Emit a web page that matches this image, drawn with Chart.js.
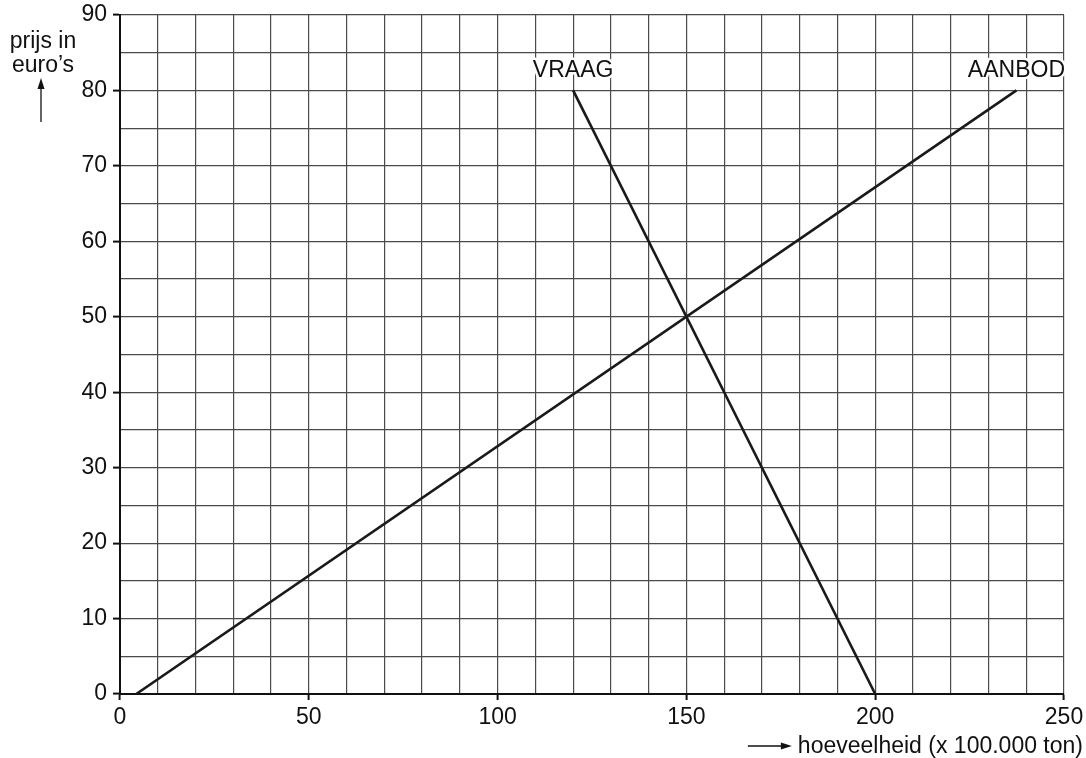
<!DOCTYPE html>
<html>
<head>
<meta charset="utf-8">
<script src="https://cdn.jsdelivr.net/npm/chart.js@4"></script>
<style>
html,body{margin:0;padding:0;background:#fff;}
#wrap{width:1086px;height:758px;position:relative;}
</style>
</head>
<body>
<div id="wrap"><canvas id="c" width="1086" height="758"></canvas></div>
<script>
// Data
const vraagQ = [120, 200];
const vraagP = [80, 0];
const aanbodQ = [4.3, 237.4];
const aanbodP = [0, 80];
const xTickLabels = [0, 50, 100, 150, 200, 250];
const yTickLabels = [0, 10, 20, 30, 40, 50, 60, 70, 80, 90];
const seriesNames = ['VRAAG', 'AANBOD'];
const yTitle = ['prijs in', 'euro\u2019s'];
const xTitle = 'hoeveelheid (x 100.000 ton)';

const FONT = '"Liberation Sans", Arial, sans-serif';

function pts(xs, ys){ return xs.map((x,i)=>({x:x, y:ys[i]})); }

const labelPlugin = {
  id: 'labels',
  afterDraw(chart){
    const ctx = chart.ctx;
    const xs = chart.scales.x, ys = chart.scales.y;
    ctx.save();
    ctx.font = '23px ' + FONT;
    ctx.textAlign = 'center';
    ctx.textBaseline = 'alphabetic';
    ctx.lineJoin = 'round';
    const ends = [
      [vraagQ[0], vraagP[0]],
      [aanbodQ[aanbodQ.length-1], aanbodP[aanbodP.length-1]]
    ];
    seriesNames.forEach((n,i)=>{
      const px = xs.getPixelForValue(ends[i][0]);
      const py = ys.getPixelForValue(ends[i][1]) - 13;
      ctx.strokeStyle = '#fff'; ctx.lineWidth = 5;
      ctx.strokeText(n, px, py);
      ctx.fillStyle = '#111';
      ctx.fillText(n, px, py);
    });
    // y title
    ctx.font = '23px ' + FONT;
    ctx.fillStyle = '#111';
    ctx.fillText(yTitle[0], 43, 48);
    ctx.fillText(yTitle[1], 43, 72);
    // y arrow
    ctx.strokeStyle = '#111'; ctx.lineWidth = 1.3;
    ctx.beginPath(); ctx.moveTo(41, 122); ctx.lineTo(41, 84); ctx.stroke();
    ctx.fillStyle = '#111';
    ctx.beginPath(); ctx.moveTo(41, 78); ctx.lineTo(37.5, 89); ctx.lineTo(44.5, 89); ctx.closePath(); ctx.fill();
    // x title
    ctx.font = '23px ' + FONT;
    ctx.textAlign = 'right';
    ctx.fillText(xTitle, 1083, 753);
    const tw = ctx.measureText(xTitle).width;
    const ax = 1083 - tw - 6;
    ctx.beginPath(); ctx.moveTo(ax - 44, 746); ctx.lineTo(ax - 6, 746); ctx.stroke();
    ctx.beginPath(); ctx.moveTo(ax, 746); ctx.lineTo(ax - 11, 742.5); ctx.lineTo(ax - 11, 749.5); ctx.closePath(); ctx.fill();
    ctx.restore();
  }
};

new Chart(document.getElementById('c'), {
  type: 'line',
  data: {
    datasets: [
      { label: seriesNames[0], data: pts(vraagQ, vraagP), borderColor: '#1a1a1a', borderWidth: 2.6, pointRadius: 0, tension: 0, fill: false },
      { label: seriesNames[1], data: pts(aanbodQ, aanbodP), borderColor: '#1a1a1a', borderWidth: 2.6, pointRadius: 0, tension: 0, fill: false }
    ]
  },
  options: {
    responsive: false,
    animation: false,
    layout: { padding: 0 },
    plugins: { legend: { display: false }, tooltip: { enabled: false } },
    scales: {
      x: {
        type: 'linear', min: 0, max: 250,
        afterFit(s){ s.height = 64; s.paddingLeft = 0; s.paddingRight = 22; },
        afterBuildTicks(s){ const t=[]; for(let v=0; v<=250; v+=10) t.push({value:v}); s.ticks = t; },
        ticks: {
          autoSkip: false, maxRotation: 0, color: '#111', padding: 4,
          font: { family: FONT, size: 23 },
          callback: (v) => xTickLabels.includes(v) ? String(v) : ''
        },
        grid: {
          color: (c) => (c.tick && c.tick.value === 0) ? '#111' : '#4a4a4a',
          lineWidth: 1.2,
          tickLength: 6,
          tickColor: (c) => (c.tick && xTickLabels.includes(c.tick.value)) ? '#111' : 'rgba(0,0,0,0)',
          tickWidth: 2
        },
        border: { display: true, color: '#111', width: 2 }
      },
      y: {
        type: 'linear', min: 0, max: 90,
        afterFit(s){ s.width = 120; s.paddingTop = 15; s.paddingBottom = 0; },
        afterBuildTicks(s){ const t=[]; for(let v=0; v<=90; v+=5) t.push({value:v}); s.ticks = t; },
        ticks: {
          autoSkip: false, color: '#111', padding: 6,
          font: { family: FONT, size: 23 },
          callback: (v) => yTickLabels.includes(v) ? String(v) : ''
        },
        grid: {
          color: (c) => (c.tick && c.tick.value === 0) ? '#111' : '#4a4a4a',
          lineWidth: 1.2,
          tickLength: 7,
          tickColor: (c) => (c.tick && yTickLabels.includes(c.tick.value)) ? '#111' : 'rgba(0,0,0,0)',
          tickWidth: 2
        },
        border: { display: true, color: '#111', width: 2 }
      }
    }
  },
  plugins: [labelPlugin]
});
</script>
</body>
</html>
